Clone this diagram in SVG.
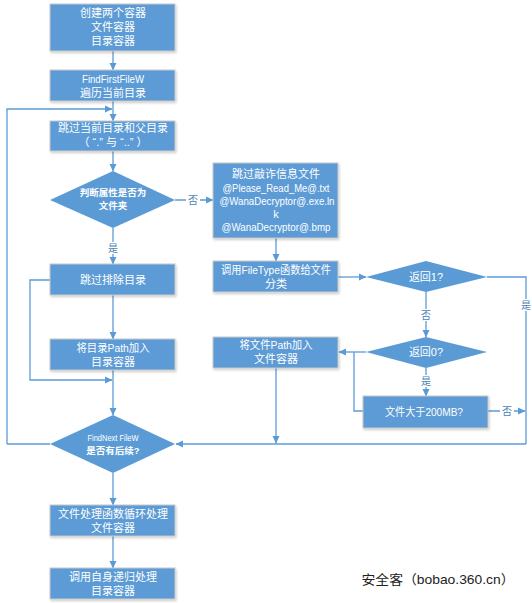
<svg xmlns="http://www.w3.org/2000/svg" width="532" height="603" viewBox="0 0 532 603">
<defs>
<marker id="ah" markerWidth="8" markerHeight="8" refX="7" refY="4" orient="auto" markerUnits="userSpaceOnUse">
<path d="M0,0.5 L7.5,4 L0,7.5 Z" fill="#5B9BD5"/>
</marker>
<filter id="sh" x="-5%" y="-5%" width="115%" height="125%">
<feDropShadow dx="1" dy="1.5" stdDeviation="0.8" flood-color="#000" flood-opacity="0.2"/>
</filter>
</defs>
<style>
.box{fill:#5B9BD5;stroke:#c9c9c9;stroke-width:1;filter:url(#sh)}
.dia{fill:#5B9BD5;stroke:none}
.t{font-family:"Liberation Sans","Noto Sans CJK SC",sans-serif;font-size:11px;fill:#fff;text-anchor:middle}
.tb{font-family:"Liberation Sans","Noto Sans CJK SC",sans-serif;font-size:9.5px;font-weight:bold;fill:#fff;text-anchor:middle}
.lbl{font-family:"Liberation Sans","Noto Sans CJK SC",sans-serif;font-size:10px;fill:#4a7fb5;text-anchor:middle}
.c{fill:none;stroke:#5B9BD5;stroke-width:1.3}
.ca{fill:none;stroke:#5B9BD5;stroke-width:1.3;marker-end:url(#ah)}
</style>
<rect width="532" height="603" fill="#fff"/>
<g id="connectors">
<path class="ca" d="M113,51 V70"/>
<path class="ca" d="M113,101 V121"/>
<path class="ca" d="M7,444 V109 H112"/>
<path class="ca" d="M113,151 V171"/>
<path class="ca" d="M175,200 H213"/>
<path class="ca" d="M113,228 V264"/>
<path class="ca" d="M113,295 V339"/>
<path class="ca" d="M50,280 H30 V380 H112"/>
<path class="ca" d="M113,370 V415"/>
<path class="c" d="M50,444 H7"/>
<path class="ca" d="M113,473 V505"/>
<path class="ca" d="M113,536 V568"/>
<path class="ca" d="M276,238 V261"/>
<path class="ca" d="M338,277 H366"/>
<path class="c" d="M487,277 H526 V444"/>
<path class="ca" d="M526,444 H176"/>
<path class="ca" d="M426,292 V337"/>
<path class="ca" d="M366,352 H339"/>
<path class="ca" d="M426,368 V396"/>
<path class="c" d="M363,411 H354 V352"/>
<path class="ca" d="M488,411 H525"/>
<path class="ca" d="M276,368 V443"/>
<rect x="186" y="194" width="14" height="12" fill="#fff"/>
<text class="lbl" x="193" y="204">否</text>
<rect x="106" y="242" width="14" height="12" fill="#fff"/>
<text class="lbl" x="113" y="252">是</text>
<rect x="519" y="299" width="14" height="12" fill="#fff"/>
<text class="lbl" x="526" y="309">是</text>
<rect x="419" y="309" width="14" height="12" fill="#fff"/>
<text class="lbl" x="426" y="319">否</text>
<rect x="419" y="375" width="14" height="12" fill="#fff"/>
<text class="lbl" x="426" y="385">是</text>
<rect x="500" y="405" width="14" height="12" fill="#fff"/>
<text class="lbl" x="507" y="415">否</text>
</g>
<g id="n1"><rect class="box" x="50" y="4" width="125" height="47"/>
<text class="t" x="113" y="17">创建两个容器</text><text class="t" x="113" y="31">文件容器</text><text class="t" x="113" y="45">目录容器</text></g>
<g id="n2"><rect class="box" x="50" y="70" width="125" height="31"/>
<text class="t" x="113" y="83" textLength="62" lengthAdjust="spacingAndGlyphs">FindFirstFileW</text><text class="t" x="113" y="97">遍历当前目录</text></g>
<g id="n3"><rect class="box" x="50" y="121" width="125" height="30"/>
<text class="t" x="113" y="132">跳过当前目录和父目录</text><text class="t" x="113" y="146" xml:space="preserve">（ “.” 与 “..” ）</text></g>
<g id="n4"><polygon class="dia" points="113,171 175,200 113,228 50,200"/>
<text class="tb" x="113" y="196">判断属性是否为</text><text class="tb" x="113" y="209">文件夹</text></g>
<g id="n5"><rect class="box" x="50" y="264" width="125" height="31"/>
<text class="t" x="113" y="284">跳过排除目录</text></g>
<g id="n6"><rect class="box" x="50" y="339" width="125" height="31"/>
<text class="t" x="113" y="352" textLength="73" lengthAdjust="spacingAndGlyphs">将目录Path加入</text><text class="t" x="113" y="366">目录容器</text></g>
<g id="n7"><polygon class="dia" points="113,415 175,444 113,473 50,444"/>
<text class="tb" x="113" y="441" style="font-weight:normal;font-size:9px" textLength="51" lengthAdjust="spacingAndGlyphs">FindNext FileW</text><text class="tb" x="113" y="454">是否有后续?</text></g>
<g id="n8"><rect class="box" x="50" y="505" width="125" height="31"/>
<text class="t" x="113" y="518">文件处理函数循环处理</text><text class="t" x="113" y="532">文件容器</text></g>
<g id="n9"><rect class="box" x="50" y="568" width="125" height="31"/>
<text class="t" x="113" y="581">调用自身递归处理</text><text class="t" x="113" y="595">目录容器</text></g>
<g id="n10"><rect class="box" x="213" y="163" width="125" height="75"/>
<text class="t" x="276" y="178">跳过敲诈信息文件</text><text class="t" x="276" y="192" textLength="107" lengthAdjust="spacingAndGlyphs">@Please_Read_Me@.txt</text><text class="t" x="277" y="205" textLength="115" lengthAdjust="spacingAndGlyphs">@WanaDecryptor@.exe.ln</text><text class="t" x="276" y="218">k</text><text class="t" x="276" y="231" textLength="109" lengthAdjust="spacingAndGlyphs">@WanaDecryptor@.bmp</text></g>
<g id="n11"><rect class="box" x="213" y="261" width="125" height="31"/>
<text class="t" x="276" y="274" textLength="110" lengthAdjust="spacingAndGlyphs">调用FileType函数给文件</text><text class="t" x="276" y="288">分类</text></g>
<g id="n12"><polygon class="dia" points="426,261 487,277 426,292 366,277"/>
<text class="t" x="426" y="281">返回1?</text></g>
<g id="n13"><polygon class="dia" points="426,337 487,352 426,368 366,352"/>
<text class="t" x="426" y="356">返回0?</text></g>
<g id="n14"><rect class="box" x="213" y="337" width="125" height="31"/>
<text class="t" x="276" y="349" textLength="73" lengthAdjust="spacingAndGlyphs">将文件Path加入</text><text class="t" x="276" y="363">文件容器</text></g>
<g id="n15"><rect class="box" x="363" y="396" width="125" height="32"/>
<text class="t" x="424" y="416" textLength="78" lengthAdjust="spacingAndGlyphs">文件大于200MB?</text></g>
<text x="438" y="584" textLength="153" lengthAdjust="spacingAndGlyphs" style="font-family:'Liberation Sans','Noto Sans CJK SC',sans-serif;font-size:13px;fill:#222;text-anchor:middle">安全客（bobao.360.cn）</text>
</svg>
